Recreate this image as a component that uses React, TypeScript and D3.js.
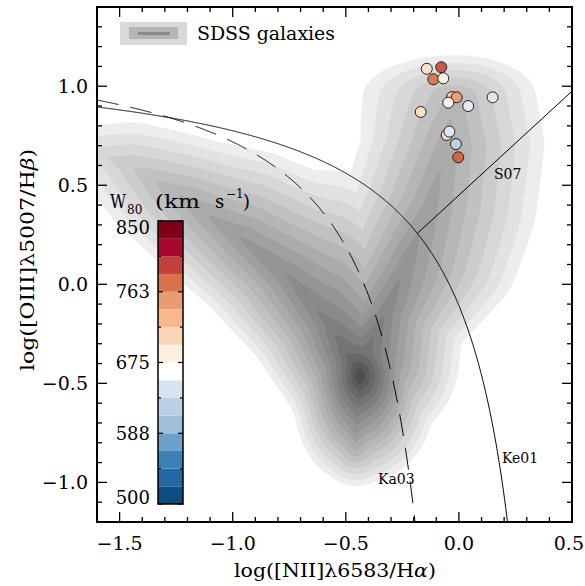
import React, { useMemo } from "react";
import * as d3 from "d3";

const W = 585;
const H = 586;
const PLOT_LEFT = 97;
const PLOT_RIGHT = 572;
const PLOT_TOP = 7;
const PLOT_BOTTOM = 522;
const X_DOMAIN = [-1.6, 0.5];
const Y_DOMAIN = [-1.2, 1.4];
const X_MAJOR = [-1.5, -1.0, -0.5, 0.0, 0.5];
const Y_MAJOR = [-1.0, -0.5, 0.0, 0.5, 1.0];
const MINOR_STEP = 0.1;

// Observed objects: BPT positions and W80 (km/s)
const objX = [-0.142, -0.078, -0.113, -0.069, -0.03, -0.01, -0.047, 0.041, 0.149, -0.169, -0.054, -0.042, -0.013, -0.003];
const objY = [1.088, 1.096, 1.035, 1.04, 0.945, 0.944, 0.917, 0.9, 0.944, 0.87, 0.754, 0.771, 0.708, 0.641];
const objW80 = [697, 786, 770, 684, 715, 751, 681, 648, 646, 700, 703, 645, 621, 778];

// Colour bar
const CBAR_MIN = 500;
const CBAR_MAX = 850;
const cbarColors = [
  "#0d4c80", "#2368a3", "#3e80b5", "#6ca0c8", "#a1c1da", "#bad0e4", "#d8e4f1", "#ffffff",
  "#feefe0", "#fcd4b8", "#f8b78d", "#e99c74", "#d9714d", "#c2403d", "#a6082e", "#7f0019",
];
const cbarLabelValues = [500, 587.5, 675, 762.5, 850];

// SDSS galaxy density, described by ridge lines: ridge id, position, level, spread per level (left/right/down/up)
const ridgeId = [0, 0, 0, 0, 0, 0, 0, 0, 1, 1, 1, 2, 2, 2, 2, 2, 2];
const ridgeX = [-1.65, -1.45, -1.2, -0.95, -0.74, -0.58, -0.48, -0.44, -0.44, -0.45, -0.46, -0.42, -0.33, -0.24, -0.13, -0.06, -0.02];
const ridgeY = [0.68, 0.6, 0.42, 0.22, 0.02, -0.2, -0.38, -0.46, -0.46, -0.62, -0.82, -0.36, -0.15, 0.1, 0.4, 0.7, 0.95];
const ridgeLevel = [3.2, 5, 7.5, 9.3, 10.3, 11.5, 13.5, 16, 16, 12, 7.5, 13, 11, 9.8, 8.6, 7.8, 6.5];
const ridgeSxL = [0.06, 0.06, 0.055, 0.05, 0.045, 0.035, 0.025, 0.02, 0.02, 0.025, 0.025, 0.03, 0.035, 0.04, 0.05, 0.055, 0.074];
const ridgeSxR = [0.06, 0.06, 0.055, 0.05, 0.045, 0.04, 0.03, 0.022, 0.022, 0.03, 0.03, 0.035, 0.035, 0.056, 0.062, 0.064, 0.065];
const ridgeSyD = [0.045, 0.04, 0.035, 0.03, 0.028, 0.03, 0.035, 0.035, 0.035, 0.035, 0.03, 0.04, 0.035, 0.04, 0.058, 0.046, 0.044];
const ridgeSyU = [0.055, 0.055, 0.05, 0.056, 0.062, 0.074, 0.05, 0.035, 0.035, 0.04, 0.04, 0.04, 0.04, 0.045, 0.05, 0.055, 0.038];
const densityLevels = [1, 2, 3, 4, 5, 6, 7, 8, 9, 10, 11, 12, 13, 14, 15, 16];
const densityGrays = [
  "#ededed", "#e2e2e2", "#d7d7d7", "#cccccc", "#c1c1c1", "#b6b6b6", "#ababab", "#a0a0a0",
  "#959595", "#8a8a8a", "#7f7f7f", "#747474", "#686868", "#5c5c5c", "#4e4e4e", "#3e3e3e",
];

// Demarcation lines
const KE01 = [0.61, 0.47, 1.19]; // y = a/(x-b)+c
const KA03 = [0.61, 0.05, 1.3];
const S07 = [1.05, 0.45]; // y = m x + c

const FONT = "'DejaVu Serif', serif";
const fmtTick = (v: number) => (v < 0 ? "\u2212" : "") + Math.abs(v).toFixed(1);

function buildDensity() {
  const kx: number[] = [], ky: number[] = [], kl: number[] = [], kxl: number[] = [], kxr: number[] = [], kyd: number[] = [], kyu: number[] = [];
  const sub = 14;
  for (let i = 0; i < ridgeX.length - 1; i++) {
    if (ridgeId[i] !== ridgeId[i + 1]) continue;
    for (let s = 0; s <= sub; s++) {
      const t = s / sub;
      const lerp = (a: number[]) => a[i] + (a[i + 1] - a[i]) * t;
      kx.push(lerp(ridgeX)); ky.push(lerp(ridgeY)); kl.push(lerp(ridgeLevel));
      kxl.push(lerp(ridgeSxL)); kxr.push(lerp(ridgeSxR)); kyd.push(lerp(ridgeSyD)); kyu.push(lerp(ridgeSyU));
    }
  }
  const step = 0.005;
  const x0 = -1.62, x1 = 0.52, y0 = -1.22, y1 = 1.42;
  const nx = Math.round((x1 - x0) / step) + 1;
  const ny = Math.round((y1 - y0) / step) + 1;
  const values = new Array(nx * ny);
  const n = kx.length;
  for (let j = 0; j < ny; j++) {
    const y = y1 - j * step;
    for (let i = 0; i < nx; i++) {
      const x = x0 + i * step;
      let best = -1e9;
      for (let k = 0; k < n; k++) {
        const dx = x - kx[k];
        const dy = y - ky[k];
        const u = dx / (dx < 0 ? kxl[k] : kxr[k]);
        const v = dy / (dy < 0 ? kyd[k] : kyu[k]);
        const f = kl[k] - Math.sqrt(u * u + v * v);
        if (f > best) best = f;
      }
      values[j * nx + i] = best;
    }
  }
  const contours = d3.contours().size([nx, ny]).thresholds(densityLevels)(values);
  return { contours, x0, y1, step };
}

export default function App() {
  const xs = d3.scaleLinear().domain(X_DOMAIN).range([PLOT_LEFT, PLOT_RIGHT]);
  const ys = d3.scaleLinear().domain(Y_DOMAIN).range([PLOT_BOTTOM, PLOT_TOP]);

  const density = useMemo(buildDensity, []);
  const geo = d3.geoPath(
    d3.geoTransform({
      point: function (gx: number, gy: number) {
        (this as any).stream.point(xs(density.x0 + gx * density.step), ys(density.y1 - gy * density.step));
      },
    })
  );

  const line = d3.line<[number, number]>().x((d) => xs(d[0])).y((d) => ys(d[1]));
  const ke = (x: number) => KE01[0] / (x - KE01[1]) + KE01[2];
  const ka = (x: number) => KA03[0] / (x - KA03[1]) + KA03[2];
  const keData: [number, number][] = d3.range(-1.6, 0.2206, 0.002).map((x) => [x, ke(x)]);
  const kaData: [number, number][] = d3.range(-1.6, -0.184, 0.002).map((x) => [x, ka(x)]);
  let lo = -0.6, hi = 0.3;
  for (let i = 0; i < 60; i++) {
    const mid = (lo + hi) / 2;
    const g = S07[0] * mid + S07[1] - ke(mid);
    if (g > 0) hi = mid; else lo = mid;
  }
  const s07Start = (lo + hi) / 2;
  const s07Data: [number, number][] = [s07Start, X_DOMAIN[1]].map((x) => [x, S07[0] * x + S07[1]]);

  const cbarTop = 221, cbarBottom = 504, cbarLeft = 158, cbarRight = 183;
  const cs = d3.scaleLinear().domain([CBAR_MIN, CBAR_MAX]).range([cbarBottom, cbarTop]);
  const nBands = cbarColors.length;
  const bandW = (CBAR_MAX - CBAR_MIN) / nBands;
  const bandCenters = cbarColors.map((_, i) => CBAR_MIN + (i + 0.5) * bandW);
  const colorOf = d3.scaleLinear<string>().domain(bandCenters).range(cbarColors).interpolate(d3.interpolateRgb).clamp(true);
  const cbarTicks = d3.range(0, nBands + 1, 2).map((i) => CBAR_MIN + i * bandW);

  const xMinor = d3.range(Math.round(X_DOMAIN[0] / MINOR_STEP), Math.round(X_DOMAIN[1] / MINOR_STEP) + 1).map((i) => +(i * MINOR_STEP).toFixed(2));
  const yMinor = d3.range(Math.round(Y_DOMAIN[0] / MINOR_STEP), Math.round(Y_DOMAIN[1] / MINOR_STEP) + 1).map((i) => +(i * MINOR_STEP).toFixed(2));
  const isMajor = (v: number, arr: number[]) => arr.some((m) => Math.abs(m - v) < 1e-6);

  return (
    <svg width={W} height={H} style={{ position: "absolute", left: 0, top: 0, background: "#fff" }} fontFamily={FONT}>
      <defs>
        <clipPath id="plotclip">
          <rect x={PLOT_LEFT} y={PLOT_TOP} width={PLOT_RIGHT - PLOT_LEFT} height={PLOT_BOTTOM - PLOT_TOP} />
        </clipPath>
      </defs>
      <rect x={0} y={0} width={W} height={H} fill="#fff" />
      <g clipPath="url(#plotclip)">
        {density.contours.map((c, i) => (
          <path key={i} d={geo(c as any) || ""} fill={densityGrays[i]} stroke="none" />
        ))}
        <path d={line(keData) || ""} fill="none" stroke="#000" strokeWidth={1} />
        <path d={line(kaData) || ""} fill="none" stroke="#000" strokeWidth={1} strokeDasharray="22 12" />
        <path d={line(s07Data) || ""} fill="none" stroke="#000" strokeWidth={1} />
      </g>
      <text x={502} y={463} fontSize={14}>Ke01</text>
      <text x={378} y={484} fontSize={14}>Ka03</text>
      <text x={494} y={179} fontSize={14}>S07</text>

      {objX.map((x, i) => (
        <circle key={i} cx={xs(x)} cy={ys(objY[i])} r={5.5} fill={colorOf(objW80[i])} stroke="#222" strokeWidth={1} />
      ))}

      <rect x={120} y={22} width={67} height={23} fill="#d9d9d9" />
      <rect x={129} y={27} width={49} height={12} fill="#b5b5b5" />
      <line x1={138} x2={170} y1={33.5} y2={33.5} stroke="#8a8a8a" strokeWidth={3} />
      <text x={197} y={40} fontSize={18} textLength={138} lengthAdjust="spacingAndGlyphs">SDSS galaxies</text>

      {cbarColors.map((c, i) => (
        <rect key={i} x={cbarLeft} y={cs(CBAR_MIN + (i + 1) * bandW)} width={cbarRight - cbarLeft} height={cs(CBAR_MIN) - cs(CBAR_MIN + bandW)} fill={c} />
      ))}
      <rect x={cbarLeft} y={cbarTop} width={cbarRight - cbarLeft} height={cbarBottom - cbarTop} fill="none" stroke="#000" strokeWidth={1.5} />
      {cbarTicks.map((v, i) => {
        const len = i % 2 === 0 ? 5 : 3;
        return (
          <g key={i}>
            <line x1={cbarLeft} x2={cbarLeft + len} y1={cs(v)} y2={cs(v)} stroke="#000" strokeWidth={1.2} />
            <line x1={cbarRight} x2={cbarRight - len} y1={cs(v)} y2={cs(v)} stroke="#000" strokeWidth={1.2} />
          </g>
        );
      })}
      {cbarLabelValues.map((v, i) => (
        <text key={i} x={150} y={Math.min(Math.max(cs(v), 228), 498)} dy="0.36em" fontSize={18} textAnchor="end">
          {Math.round(v)}
        </text>
      ))}
      <text x={110} y={208} fontSize={18} textLength={16} lengthAdjust="spacingAndGlyphs">W</text>
      <text x={127} y={214} fontSize={12}>80</text>
      <text x={155} y={208} fontSize={18} textLength={45} lengthAdjust="spacingAndGlyphs">(km</text>
      <text x={215} y={208} fontSize={18}>s</text>
      <text x={226} y={198} fontSize={12}>{"\u22121"}</text>
      <text x={243} y={208} fontSize={18}>)</text>

      {xMinor.map((v, i) => {
        const len = isMajor(v, X_MAJOR) ? 10 : 5;
        const x = xs(v);
        return (
          <g key={"x" + i}>
            <line x1={x} x2={x} y1={PLOT_BOTTOM} y2={PLOT_BOTTOM - len} stroke="#000" strokeWidth={1.3} />
            <line x1={x} x2={x} y1={PLOT_TOP} y2={PLOT_TOP + len} stroke="#000" strokeWidth={1.3} />
          </g>
        );
      })}
      {yMinor.map((v, i) => {
        const len = isMajor(v, Y_MAJOR) ? 10 : 5;
        const y = ys(v);
        return (
          <g key={"y" + i}>
            <line x1={PLOT_LEFT} x2={PLOT_LEFT + len} y1={y} y2={y} stroke="#000" strokeWidth={1.3} />
            <line x1={PLOT_RIGHT} x2={PLOT_RIGHT - len} y1={y} y2={y} stroke="#000" strokeWidth={1.3} />
          </g>
        );
      })}
      <rect x={PLOT_LEFT} y={PLOT_TOP} width={PLOT_RIGHT - PLOT_LEFT} height={PLOT_BOTTOM - PLOT_TOP} fill="none" stroke="#000" strokeWidth={2} />
      {X_MAJOR.map((v, i) => {
        const last = i === X_MAJOR.length - 1;
        return (
          <text key={i} x={last ? W - 1 : xs(v)} y={550} fontSize={19} textAnchor={last ? "end" : "middle"}>{fmtTick(v)}</text>
        );
      })}
      {Y_MAJOR.map((v, i) => (
        <text key={i} x={88} y={ys(v)} dy="0.36em" fontSize={19} textAnchor="end">{fmtTick(v)}</text>
      ))}
      <text x={335} y={577} fontSize={19} textAnchor="middle" textLength={202} lengthAdjust="spacingAndGlyphs">
        log([NII]λ6583/H<tspan fontStyle="italic">α</tspan>)
      </text>
      <text transform="translate(34,260) rotate(-90)" fontSize={19} textAnchor="middle" textLength={222} lengthAdjust="spacingAndGlyphs">
        log([OIII]λ5007/H<tspan fontStyle="italic">β</tspan>)
      </text>
    </svg>
  );
}
